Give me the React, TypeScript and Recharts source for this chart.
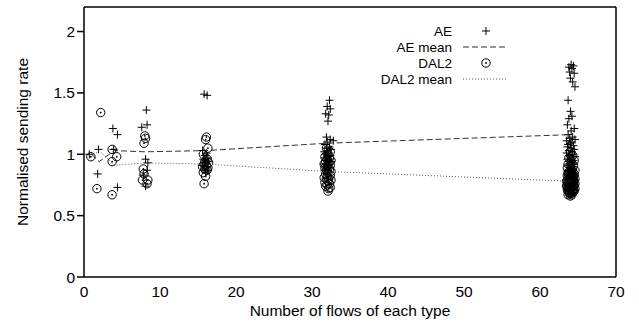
import React from 'react';
import { ScatterChart, Scatter, XAxis, YAxis, Legend } from 'recharts';

type Pt = [number, number];

const X_TICKS = [0, 10, 20, 30, 40, 50, 60, 70];
const Y_TICKS = [0, 0.5, 1, 1.5, 2];

// mean lines, one point per flow count
const MEAN_X = [1, 2, 4, 8, 16, 32, 64];
const AE_MEAN = [1.0, 0.94, 1.03, 1.02, 1.03, 1.09, 1.16];
const DAL2_MEAN = [0.98, 1.03, 0.91, 0.93, 0.92, 0.86, 0.78];

// per-flow samples (x is jittered around the flow count)
const AE_1: Pt[] = [[0.7, 1.0]];
const AE_2: Pt[] = [[1.9, 1.04], [1.8, 0.84]];
const AE_4: Pt[] = [[3.8, 1.21], [4.4, 1.16], [3.9, 1.04], [4.4, 0.73]];
const AE_8: Pt[] = [
  [8.2, 1.36], [8.3, 1.24], [7.6, 1.22], [8.1, 0.96], [8.4, 0.93], [8.3, 0.87], [7.8, 0.83], [8.1, 0.74],
];
const AE_16: Pt[] = [
  [15.8, 1.49], [16.2, 1.48], [15.6, 1.03], [16.1, 1.01], [15.9, 0.99], [16.3, 0.97], [15.7, 0.96], [16.0, 0.95],
  [16.4, 0.94], [15.8, 0.93], [16.2, 0.92], [15.6, 0.91], [16.1, 0.90], [15.9, 0.88], [16.3, 0.87], [16.0, 0.85],
];
const AE_32: Pt[] = [
  [32.3, 1.44], [32.0, 1.39], [32.4, 1.37], [31.8, 1.33], [32.2, 1.32], [32.1, 1.27], [31.9, 1.14], [32.4, 1.12],
  [32.8, 1.11], [32.0, 1.10], [31.7, 1.08], [32.3, 1.06], [31.9, 1.05], [32.5, 1.04], [32.1, 1.03], [31.6, 1.02],
  [32.2, 1.01], [31.8, 1.00], [32.4, 0.99], [32.0, 0.98], [31.7, 0.97], [32.3, 0.96], [31.9, 0.95], [32.5, 0.94],
  [32.1, 0.93], [31.6, 0.92], [32.2, 0.91], [31.8, 0.90], [32.4, 0.89], [32.0, 0.88], [31.7, 0.87], [32.3, 0.86],
];
const AE_64: Pt[] = [
  [64.1, 1.73], [64.4, 1.72], [63.8, 1.71], [64.2, 1.70], [63.9, 1.67], [64.5, 1.66], [64.0, 1.62], [64.3, 1.59],
  [64.6, 1.55], [63.7, 1.44], [64.0, 1.35], [64.2, 1.31], [63.8, 1.29], [63.6, 1.24], [64.5, 1.21], [64.1, 1.19],
  [63.7, 1.16], [64.3, 1.14], [63.9, 1.13], [64.6, 1.12], [63.5, 1.11], [64.2, 1.10], [64.0, 1.09], [63.7, 1.08],
  [64.4, 1.07], [63.6, 1.06], [64.1, 1.05], [64.5, 1.04], [63.8, 1.03], [64.2, 1.02], [63.5, 1.01], [64.3, 1.00],
  [63.9, 0.99], [64.6, 0.98], [64.0, 0.97], [63.6, 0.96], [64.4, 0.95], [63.8, 0.94], [64.1, 0.93], [64.5, 0.92],
  [63.7, 0.91], [64.2, 0.90], [63.9, 0.89], [64.4, 0.88], [63.6, 0.87], [64.0, 0.86], [64.3, 0.85], [63.8, 0.84],
  [64.6, 0.83], [64.1, 0.82], [63.7, 0.81], [64.4, 0.80], [63.9, 0.79], [64.2, 0.78], [63.6, 0.77], [64.0, 0.76],
  [64.5, 0.75], [63.8, 0.74], [64.3, 0.73], [63.7, 0.72], [64.1, 0.71], [63.9, 0.70], [64.4, 0.69], [64.0, 0.68],
];

const DAL2_1: Pt[] = [[0.9, 0.98]];
const DAL2_2: Pt[] = [[2.2, 1.34], [1.7, 0.72]];
const DAL2_4: Pt[] = [[3.7, 1.04], [4.3, 0.98], [3.7, 0.94], [3.7, 0.67]];
const DAL2_8: Pt[] = [
  [8.0, 1.15], [8.1, 1.13], [7.9, 1.09], [7.8, 0.88], [7.9, 0.84], [7.7, 0.79], [8.4, 0.79], [8.3, 0.76],
];
const DAL2_16: Pt[] = [
  [16.1, 1.14], [16.0, 1.12], [16.3, 1.05], [15.7, 1.00], [16.2, 0.96], [15.9, 0.94], [16.4, 0.93], [15.8, 0.92],
  [16.1, 0.91], [15.6, 0.90], [16.3, 0.89], [15.9, 0.88], [16.2, 0.87], [15.7, 0.85], [16.0, 0.82], [15.8, 0.76],
];
const DAL2_32: Pt[] = [
  [31.9, 1.05], [32.4, 1.02], [32.1, 1.00], [31.7, 0.98], [32.3, 0.97], [32.0, 0.96], [32.5, 0.95], [31.8, 0.94],
  [32.2, 0.93], [31.6, 0.92], [32.4, 0.91], [32.0, 0.90], [31.7, 0.89], [32.3, 0.88], [31.9, 0.87], [32.5, 0.86],
  [32.1, 0.85], [31.8, 0.84], [32.4, 0.83], [32.0, 0.82], [31.6, 0.81], [32.2, 0.80], [31.9, 0.80], [32.5, 0.79],
  [32.1, 0.78], [31.7, 0.77], [32.3, 0.76], [32.0, 0.75], [31.8, 0.74], [32.4, 0.73], [32.2, 0.72], [32.1, 0.70],
];
const DAL2_64: Pt[] = [
  [64.0, 1.02], [64.3, 0.99], [63.8, 0.97], [64.5, 0.95], [64.1, 0.93], [63.7, 0.92], [64.4, 0.91], [64.0, 0.90],
  [63.6, 0.89], [64.2, 0.88], [64.6, 0.87], [63.9, 0.86], [64.3, 0.86], [63.7, 0.85], [64.1, 0.85], [64.5, 0.84],
  [63.8, 0.84], [64.2, 0.83], [63.6, 0.83], [64.4, 0.82], [64.0, 0.82], [63.7, 0.81], [64.3, 0.81], [63.9, 0.80],
  [64.6, 0.80], [64.1, 0.80], [63.6, 0.79], [64.4, 0.79], [63.8, 0.79], [64.2, 0.78], [63.5, 0.78], [64.5, 0.78],
  [64.0, 0.77], [63.7, 0.77], [64.3, 0.77], [63.9, 0.76], [64.6, 0.76], [64.1, 0.76], [63.6, 0.75], [64.4, 0.75],
  [63.8, 0.75], [64.2, 0.74], [63.5, 0.74], [64.5, 0.74], [64.0, 0.73], [63.7, 0.73], [64.3, 0.73], [63.9, 0.72],
  [64.6, 0.72], [64.1, 0.72], [63.6, 0.71], [64.4, 0.71], [63.8, 0.71], [64.2, 0.70], [63.7, 0.70], [64.5, 0.70],
  [64.0, 0.69], [63.8, 0.69], [64.3, 0.69], [63.9, 0.68], [64.1, 0.68], [63.7, 0.67], [64.2, 0.67], [64.0, 0.66],
];

const FONT = '"Liberation Sans", Arial, Helvetica, sans-serif';
const FS = 15.5;
const KEY_FS = 13.5;

const toXY = (pts: Pt[]) => pts.map(([x, y]) => ({ x, y }));
const AE_DATA = toXY([...AE_1, ...AE_2, ...AE_4, ...AE_8, ...AE_16, ...AE_32, ...AE_64]);
const DAL2_DATA = toXY([...DAL2_1, ...DAL2_2, ...DAL2_4, ...DAL2_8, ...DAL2_16, ...DAL2_32, ...DAL2_64]);
const AE_MEAN_DATA = MEAN_X.map((x, i) => ({ x, y: AE_MEAN[i] }));
const DAL2_MEAN_DATA = MEAN_X.map((x, i) => ({ x, y: DAL2_MEAN[i] }));

const DASH = '6 3';
const DOT = '1 2';

const Plus = (p: any) => (
  <path
    d={`M${p.cx - 4},${p.cy}H${p.cx + 4}M${p.cx},${p.cy - 4}V${p.cy + 4}`}
    stroke="#000"
    strokeWidth={1}
    fill="none"
  />
);

const DotCircle = (p: any) => (
  <g>
    <circle cx={p.cx} cy={p.cy} r={4.2} fill="none" stroke="#000" strokeWidth={1} />
    <circle cx={p.cx} cy={p.cy} r={0.9} fill="#000" />
  </g>
);

const NoMark = () => <g />;

const KeyBox = () => (
  <svg width={170} height={70} style={{ display: 'block', fontFamily: FONT, fontSize: KEY_FS }}>
    {[
      { name: 'AE', y: 9, kind: 'plus' },
      { name: 'AE mean', y: 25, kind: 'dash' },
      { name: 'DAL2', y: 41, kind: 'circle' },
      { name: 'DAL2 mean', y: 57, kind: 'dot' },
    ].map((r) => (
      <g key={r.name}>
        <text x={82} y={r.y} textAnchor="end" dominantBaseline="central" fill="#000">
          {r.name}
        </text>
        {r.kind === 'plus' && <Plus cx={116} cy={r.y} />}
        {r.kind === 'circle' && <DotCircle cx={116} cy={r.y} />}
        {r.kind === 'dash' && (
          <line x1={93} x2={138} y1={r.y} y2={r.y} stroke="#333" strokeDasharray={DASH} />
        )}
        {r.kind === 'dot' && (
          <line x1={93} x2={138} y1={r.y} y2={r.y} stroke="#555" strokeDasharray={DOT} />
        )}
      </g>
    ))}
  </svg>
);

export default function App() {
  const tickStyle = { fontFamily: FONT, fontSize: FS, fill: '#000' };
  return (
    <div style={{ position: 'absolute', left: 0, top: 0, width: 639, height: 327, background: '#fff' }}>
      <ScatterChart width={639} height={327} margin={{ top: 7, right: 23, bottom: 0, left: 0 }}>
        <XAxis
          type="number"
          dataKey="x"
          domain={[0, 70]}
          ticks={X_TICKS}
          interval={0}
          height={50}
          tickSize={0}
          tickMargin={9}
          tick={tickStyle}
          stroke="#000"
          strokeWidth={1.5}
          label={{
            content: (props: any) => {
              const vb = props.viewBox;
              return (
                <text
                  x={vb.x + vb.width / 2}
                  y={vb.y + 33}
                  textAnchor="middle"
                  dominantBaseline="central"
                  style={{ fontFamily: FONT, fontSize: FS }}
                  fill="#000"
                >
                  Number of flows of each type
                </text>
              );
            },
          }}
        />
        <YAxis
          type="number"
          dataKey="y"
          domain={[0, 2.2]}
          ticks={Y_TICKS}
          interval={0}
          width={84}
          tickSize={7}
          tickMargin={2}
          tick={tickStyle}
          stroke="#000"
          strokeWidth={1.5}
          label={{
            content: (props: any) => {
              const vb = props.viewBox;
              const cx = vb.x + 22;
              const cy = vb.y + vb.height / 2;
              return (
                <text
                  x={cx}
                  y={cy}
                  transform={`rotate(-90 ${cx} ${cy})`}
                  textAnchor="middle"
                  dominantBaseline="central"
                  style={{ fontFamily: FONT, fontSize: FS }}
                  fill="#000"
                >
                  Normalised sending rate
                </text>
              );
            },
          }}
        />
        {/* inward ticks on the bottom, top and right borders */}
        <XAxis
          xAxisId="inb"
          type="number"
          domain={[0, 70]}
          ticks={X_TICKS}
          interval={0}
          orientation="bottom"
          mirror
          tick={false}
          axisLine={false}
          tickSize={7}
          stroke="#000"
        />
        <XAxis
          xAxisId="top"
          type="number"
          domain={[0, 70]}
          ticks={X_TICKS}
          interval={0}
          orientation="top"
          mirror
          tick={false}
          tickSize={7}
          stroke="#000"
          strokeWidth={1.5}
        />
        <YAxis
          yAxisId="right"
          type="number"
          domain={[0, 2.2]}
          ticks={Y_TICKS}
          interval={0}
          orientation="right"
          mirror
          tick={false}
          tickSize={7}
          stroke="#000"
          strokeWidth={1.5}
        />
        <Legend
          layout="vertical"
          align="center"
          verticalAlign="middle"
          content={() => <KeyBox />}
          wrapperStyle={{ position: 'absolute', left: 370, top: 22, width: 170, height: 70 }}
        />
        <Scatter name="AE" data={AE_DATA} shape={Plus} isAnimationActive={false} />
        <Scatter
          name="AE mean"
          data={AE_MEAN_DATA}
          shape={NoMark}
          line={{ stroke: '#333', strokeWidth: 1, strokeDasharray: DASH }}
          lineType="joint"
          isAnimationActive={false}
        />
        <Scatter name="DAL2" data={DAL2_DATA} shape={DotCircle} isAnimationActive={false} />
        <Scatter
          name="DAL2 mean"
          data={DAL2_MEAN_DATA}
          shape={NoMark}
          line={{ stroke: '#555', strokeWidth: 1, strokeDasharray: DOT }}
          lineType="joint"
          isAnimationActive={false}
        />
      </ScatterChart>
    </div>
  );
}
